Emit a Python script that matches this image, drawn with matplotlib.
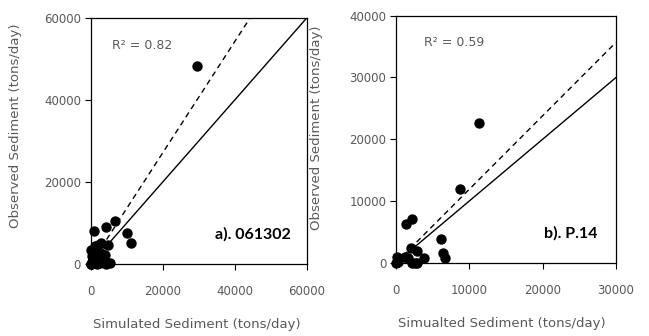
import matplotlib
matplotlib.use("Agg")
import matplotlib.pyplot as plt
import numpy as np

# ---- data ----
a_sim = [29600, 6800, 4300, 800, 10000, 11100, 4700, 2900, 1200, 2100, 4000, 5400, 4300,
         200, 500, 900, 1500, 2000, 2500, 3000, 3500, 300, 700, 1200, 1800, 2600, 3300,
         100, 600, 1400, 2200, 400, 1000, 1600, 0, 50]
a_obs = [48200, 10600, 9100, 8000, 7500, 5000, 4600, 5000, 4500, 4600, 2100, 300, 0,
         3500, 2800, 1500, 3000, 2000, 1000, 2500, 800, 500, 200, 600, 0, 300, 1500,
         0, 1000, 400, 1200, 2000, 3500, 2500, 0, 100]
b_sim = [11300, 8660, 1360, 2220, 6080, 2090, 2900, 6440, 6620, 3760, 2900, 2220, 1630,
         1220, 450, 180, 0, 230, 2580]
b_obs = [22600, 12000, 6320, 7020, 3840, 2320, 1940, 1620, 700, 810, 0, 0, 700,
         860, 540, 860, 0, 160, 0]

a_slope = 1.356
b_slope = 1.19
a_r2 = "R² = 0.82"
b_r2 = "R² = 0.59"
a_name = "a). 061302"
b_name = "b). P.14"
a_lim = 60000
b_xlim = 30000
b_ylim = 40000
a_ticks = [0, 20000, 40000, 60000]
b_xticks = [0, 10000, 20000, 30000]
b_yticks = [0, 10000, 20000, 30000, 40000]

gray = "#595959"
fig = plt.figure(figsize=(6.49, 3.36), dpi=100)
ax1 = fig.add_axes([0.1398, 0.2143, 0.3328, 0.7321])
ax2 = fig.add_axes([0.6102, 0.2182, 0.339, 0.735])

def style(ax, xlim, ylim, xt, yt, xlabel, ylx, yly, xly):
    ax.set_xlim(0, xlim)
    ax.set_ylim(0, ylim)
    ax.set_xticks(xt)
    ax.set_yticks(yt)
    ax.set_xticklabels([str(v) for v in xt])
    ax.set_yticklabels([str(v) for v in yt])
    ax.tick_params(axis="x", direction="out", length=4, width=0.8, pad=11,
                   labelsize=8.5, labelcolor=gray)
    ax.tick_params(axis="y", direction="out", length=4, width=0.8, pad=3,
                   labelsize=8.5, labelcolor=gray)
    for s in ax.spines.values():
        s.set_linewidth(0.9)
        s.set_color("black")
    ax.set_xlabel(xlabel, fontsize=9.5, color=gray)
    ax.set_ylabel("Observed Sediment (tons/day)", fontsize=9.5, color=gray)
    ax.yaxis.set_label_coords(ylx, yly)
    ax.xaxis.set_label_coords(xly, -0.22)

# panel a
xa = np.array([0, a_lim])
ax1.plot(xa, xa, color="black", lw=1.0, zorder=2)
ax1.plot(xa, a_slope * xa, color="black", lw=1.0, ls=(0, (4, 3)), zorder=2)
ax1.scatter(a_sim, a_obs, s=42, color="black", zorder=3, clip_on=False)
style(ax1, a_lim, a_lim, a_ticks, a_ticks, "Simulated Sediment (tons/day)", -0.318, 0.56, 0.49)
ax1.text(0.1, 0.89, a_r2, transform=ax1.transAxes, fontsize=9, color=gray, va="center")
ax1.text(0.925, 0.12, a_name, transform=ax1.transAxes, fontsize=11.5, fontweight="bold",
         family="Lato", ha="right", va="center")

# panel b
xb = np.array([0, b_xlim])
ax2.plot(xb, xb, color="black", lw=1.0, zorder=2)
ax2.plot(xb, b_slope * xb, color="black", lw=1.0, ls=(0, (4, 3)), zorder=2)
ax2.scatter(b_sim, b_obs, s=42, color="black", zorder=3, clip_on=False)
style(ax2, b_xlim, b_ylim, b_xticks, b_yticks, "Simualted Sediment (tons/day)", -0.332, 0.545, 0.48)
ax2.text(0.125, 0.89, b_r2, transform=ax2.transAxes, fontsize=9, color=gray, va="center")
ax2.text(0.915, 0.12, b_name, transform=ax2.transAxes, fontsize=11.5, fontweight="bold",
         family="Lato", ha="right", va="center")

fig.savefig("out.png", dpi=100)
